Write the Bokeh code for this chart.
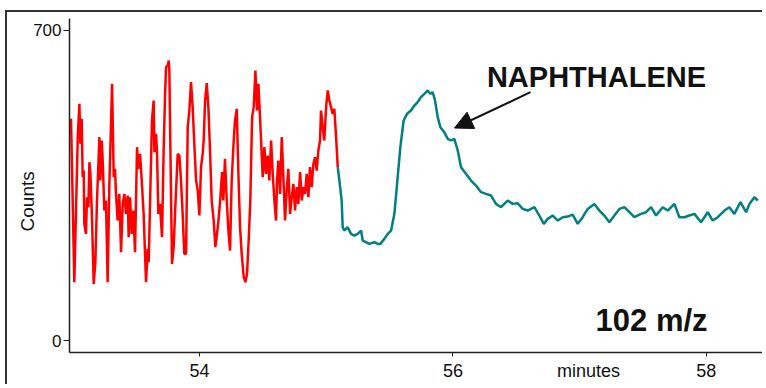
from bokeh.plotting import figure
from bokeh.models import Label, Arrow, NormalHead, FixedTicker, Range1d
from bokeh.embed import file_html
from bokeh.resources import INLINE

# Red (pre-peak, noisy) segment: time in minutes, counts
red_t = [52.973, 52.986, 53.012, 53.039, 53.052, 53.060, 53.070, 53.078, 53.086, 53.091,
         53.104, 53.112, 53.123, 53.131, 53.139, 53.152, 53.165, 53.178, 53.191, 53.210,
         53.217, 53.228, 53.236, 53.249, 53.262, 53.275, 53.288, 53.296, 53.310, 53.323,
         53.333, 53.341, 53.354, 53.367, 53.381, 53.394, 53.407, 53.420, 53.433, 53.441,
         53.452, 53.465, 53.478, 53.491, 53.507, 53.517, 53.531, 53.544, 53.559, 53.578,
         53.591, 53.599, 53.612, 53.625, 53.638, 53.644, 53.657, 53.665, 53.675, 53.688,
         53.704, 53.717, 53.728, 53.736, 53.749, 53.757, 53.762, 53.770, 53.783, 53.796,
         53.809, 53.828, 53.841, 53.854, 53.867, 53.880, 53.894, 53.907, 53.920, 53.933,
         53.946, 53.959, 53.973, 53.986, 53.999, 54.012, 54.025, 54.033, 54.044, 54.057,
         54.070, 54.083, 54.096, 54.112, 54.125, 54.138, 54.151, 54.165, 54.178, 54.188,
         54.201, 54.215, 54.228, 54.241, 54.254, 54.270, 54.280, 54.294, 54.307, 54.320,
         54.333, 54.349, 54.362, 54.375, 54.388, 54.401, 54.415, 54.428, 54.441, 54.454,
         54.465, 54.475, 54.486, 54.499, 54.512, 54.525, 54.538, 54.551, 54.565, 54.578,
         54.591, 54.604, 54.612, 54.622, 54.636, 54.649, 54.662, 54.675, 54.688, 54.701,
         54.715, 54.728, 54.741, 54.754, 54.767, 54.780, 54.794, 54.807, 54.820, 54.833,
         54.846, 54.859, 54.872, 54.885, 54.899, 54.912, 54.925, 54.938, 54.951, 54.959,
         54.972, 54.985, 54.999, 55.012, 55.025, 55.038, 55.051, 55.064, 55.078, 55.091]
red_c = [466.6, 500.5, 131.7, 459.1, 534.4, 444.1, 500.5, 368.8, 383.8, 263.4,
         240.8, 323.6, 301.0, 402.7, 376.3, 270.9, 127.9, 176.9, 316.1, 459.1,
         361.3, 451.6, 406.4, 293.5, 316.1, 131.7, 346.2, 429.0, 579.5, 368.8,
         387.6, 331.1, 270.9, 331.1, 199.4, 308.6, 331.1, 286.0, 327.4, 233.3,
         323.6, 240.8, 293.5, 199.4, 436.5, 387.6, 421.5, 361.3, 286.0, 131.7,
         207.0, 176.9, 338.7, 496.8, 541.9, 425.2, 466.6, 421.5, 286.0, 308.6,
         233.3, 429.0, 553.2, 617.2, 621.0, 632.2, 609.7, 436.5, 173.1, 210.7,
         301.0, 421.5, 417.7, 361.3, 286.0, 195.7, 195.7, 481.7, 519.3, 583.3,
         526.9, 444.1, 361.3, 338.7, 282.3, 391.4, 421.5, 451.6, 541.9, 581.1,
         526.9, 429.0, 316.1, 270.9, 210.7, 240.8, 274.7, 323.6, 380.1, 316.1,
         410.2, 316.1, 248.4, 203.2, 361.3, 451.6, 496.8, 523.1, 376.3, 255.9,
         195.7, 143.0, 131.7, 150.5, 225.8, 316.1, 504.3, 526.9, 609.7, 519.3,
         579.5, 519.3, 451.6, 368.8, 436.5, 376.3, 417.7, 361.3, 451.6, 376.3,
         316.1, 270.9, 361.3, 406.4, 331.1, 459.1, 368.8, 270.9, 338.7, 387.6,
         286.0, 323.6, 353.7, 293.5, 346.2, 308.6, 380.1, 316.1, 346.2, 331.1,
         376.3, 323.6, 391.4, 346.2, 398.9, 413.9, 383.8, 429.0, 451.6, 519.3,
         481.7, 451.6, 526.9, 564.5, 541.9, 526.9, 511.8, 523.1, 459.1, 391.4]

# Teal segment (naphthalene peak and baseline)
teal_t = [55.091, 55.104, 55.122, 55.130, 55.143, 55.169, 55.196, 55.222, 55.248, 55.275,
          55.288, 55.314, 55.340, 55.380, 55.406, 55.427, 55.459, 55.485, 55.512, 55.538,
          55.564, 55.585, 55.611, 55.638, 55.669, 55.696, 55.722, 55.748, 55.775, 55.801,
          55.822, 55.840, 55.859, 55.880, 55.901, 55.932, 55.959, 55.985, 56.011, 56.038,
          56.064, 56.103, 56.143, 56.182, 56.222, 56.261, 56.301, 56.340, 56.380, 56.406,
          56.432, 56.472, 56.511, 56.551, 56.590, 56.643, 56.682, 56.717, 56.748, 56.788,
          56.827, 56.867, 56.906, 56.945, 56.985, 57.024, 57.064, 57.116, 57.156, 57.195,
          57.235, 57.274, 57.314, 57.353, 57.393, 57.432, 57.485, 57.524, 57.564, 57.603,
          57.656, 57.695, 57.748, 57.787, 57.827, 57.866, 57.906, 57.958, 58.011, 58.050,
          58.090, 58.143, 58.182, 58.221, 58.269, 58.314, 58.340, 58.379, 58.406]
teal_c = [391.3, 361.2, 316.1, 255.8, 248.3, 255.8, 240.8, 237.0, 240.8, 248.3,
          225.7, 222.0, 218.2, 222.0, 218.2, 218.2, 229.5, 240.8, 248.3, 286.0,
          368.7, 436.5, 496.7, 511.8, 519.3, 530.6, 538.1, 549.4, 556.9, 564.5,
          556.9, 560.7, 541.9, 504.2, 481.7, 470.4, 455.3, 451.6, 455.3, 429.0,
          391.3, 376.3, 361.2, 349.9, 334.9, 331.1, 327.4, 308.5, 301.0, 308.5,
          316.1, 308.5, 310.0, 297.2, 293.5, 301.0, 282.2, 263.4, 274.7, 282.2,
          270.9, 278.4, 279.9, 284.4, 263.4, 278.4, 297.2, 308.5, 293.5, 282.2,
          267.1, 282.2, 297.2, 301.0, 289.7, 278.4, 285.9, 289.7, 301.0, 282.2,
          301.0, 293.5, 308.5, 278.4, 278.4, 282.2, 285.9, 267.1, 289.7, 271.0,
          278.4, 293.5, 301.0, 285.9, 312.3, 289.7, 308.5, 323.6, 316.1]

x_ticks = [54, 56, 58]
x_title = "minutes"
x_title_pos = 57.07
y_ticks = [0, 700]
y_title = "Counts"

FONT = "Liberation Sans"

p = figure(width=757, height=374, output_backend="svg", toolbar_location=None,
           x_range=Range1d(52.974, 58.459), y_range=Range1d(-27, 727),
           min_border_left=62, min_border_right=0, min_border_top=6, min_border_bottom=34)
p.styles = {"border-left": "2px solid #333333", "border-top": "2px solid #333333",
            "margin-left": "5px", "margin-top": "10px"}
p.outline_line_color = None
p.grid.visible = False
p.background_fill_color = "white"
p.border_fill_color = "white"

p.line(red_t, red_c, line_color="#ff0000", line_width=2.5)
p.line(teal_t, teal_c, line_color="#008080", line_width=2.5)

for ax in (p.xaxis[0], p.yaxis[0]):
    ax.axis_line_color = "#222222"
    ax.axis_line_width = 1.5
    ax.major_tick_in = 0
    ax.major_label_text_font = FONT
    ax.major_label_text_color = "#111111"
    ax.major_label_standoff = 2

# x axis: tick marks drawn as minor ticks so the "minutes" title can sit in the label row
p.xaxis.ticker = FixedTicker(ticks=x_ticks + [x_title_pos], minor_ticks=x_ticks)
p.xaxis.major_label_overrides = {x_title_pos: x_title}
p.xaxis.major_tick_line_color = None
p.xaxis.minor_tick_line_color = "#222222"
p.xaxis.minor_tick_in = 0
p.xaxis.minor_tick_out = 4
p.xaxis.major_label_text_font_size = "18px"

p.yaxis.ticker = FixedTicker(ticks=y_ticks)
p.yaxis.major_tick_line_color = "#222222"
p.yaxis.minor_tick_line_color = None
p.yaxis.major_tick_out = 6
p.yaxis.major_label_text_font_size = "17px"
p.yaxis.axis_label = y_title + "\u00a0" * 6
p.yaxis.axis_label_text_font = FONT
p.yaxis.axis_label_text_font_style = "normal"
p.yaxis.axis_label_text_font_size = "19px"
p.yaxis.axis_label_text_color = "#111111"
p.yaxis.axis_label_standoff = -8

p.add_layout(Label(x=57.133, y=596, text="NAPHTHALENE", text_align="center",
                   text_baseline="alphabetic", text_font=FONT, text_font_size="29px",
                   text_font_style="bold", text_color="#111111"))
p.add_layout(Label(x=58.01, y=46, text="102 m/z", text_align="right",
                   text_baseline="alphabetic", text_font=FONT, text_font_size="31px",
                   text_font_style="bold", text_color="#111111"))
p.add_layout(Arrow(end=NormalHead(size=18, fill_color="#111111", line_color="#111111"),
                   x_start=56.612, y_start=560.7, x_end=56.013, y_end=479.8,
                   line_color="#111111", line_width=2))

open("out.html", "w").write(file_html(p, INLINE))
